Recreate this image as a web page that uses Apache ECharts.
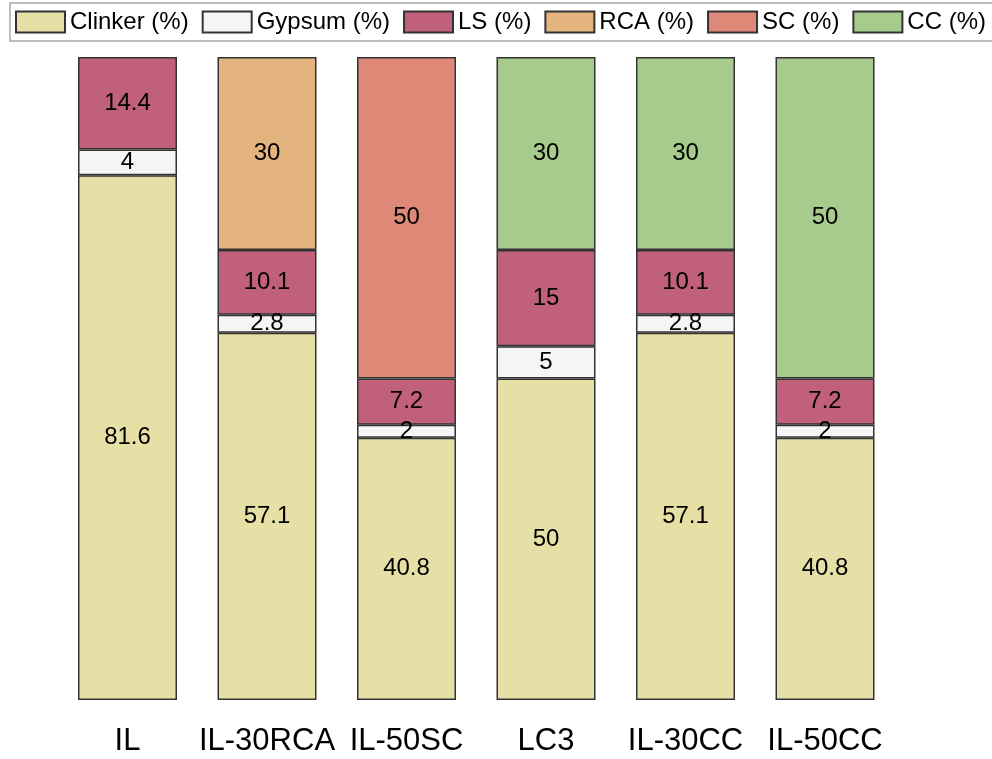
<!DOCTYPE html>
<html>
<head>
<meta charset="utf-8">
<script src="https://cdn.jsdelivr.net/npm/echarts@6/dist/echarts.min.js"></script>
<style>
html,body{margin:0;padding:0;background:#fff;}
#chart{width:992px;height:759px;}
</style>
</head>
<body>
<div id="chart"></div>
<script>
const categories = ['IL', 'IL-30RCA', 'IL-50SC', 'LC3', 'IL-30CC', 'IL-50CC'];
const clinker = [81.6, 57.1, 40.8, 50, 57.1, 40.8];
const gypsum  = [4, 2.8, 2, 5, 2.8, 2];
const ls      = [14.4, 10.1, 7.2, 15, 10.1, 7.2];
const rca     = [null, 30, null, null, null, null];
const sc      = [null, null, 50, null, null, null];
const cc      = [null, null, null, 30, 30, 50];

const seriesNames = ['Clinker (%)', 'Gypsum (%)', 'LS (%)', 'RCA (%)', 'SC (%)', 'CC (%)'];
const seriesData = [clinker, gypsum, ls, rca, sc, cc];
const colors = ['#e6e0a6', '#f5f5f5', '#c1607a', '#e4b47f', '#de8878', '#a6cb8c'];

const FONT = '"Liberation Sans", Arial, Helvetica, sans-serif';

const chart = echarts.init(document.getElementById('chart'), null, {renderer: 'canvas'});
chart.setOption({
  animation: false,
  backgroundColor: '#ffffff',
  legend: {
    left: 10,
    top: 3,
    width: 1200,
    orient: 'horizontal',
    padding: [7, 12, 7, 5],
    itemGap: 13,
    itemWidth: 49,
    itemHeight: 21,
    icon: 'rect',
    borderColor: '#aaaaaa',
    borderWidth: 1.5,
    textStyle: {fontFamily: FONT, fontSize: 24, color: '#000'},
    data: seriesNames
  },
  grid: {left: 57.75, right: 97.25, top: 57, bottom: 59, containLabel: false},
  xAxis: {
    type: 'category',
    data: categories,
    axisLine: {show: false},
    axisTick: {show: false},
    axisLabel: {fontFamily: FONT, fontSize: 31, color: '#000', margin: 26, interval: 0}
  },
  yAxis: {
    type: 'value',
    min: 0,
    max: 100,
    show: false,
    splitLine: {show: false}
  },
  series: seriesNames.map((name, i) => ({
    name: name,
    type: 'bar',
    stack: 'total',
    barWidth: 99,
    data: seriesData[i],
    itemStyle: {color: colors[i], borderColor: '#333333', borderWidth: 1.5},
    label: {
      show: true,
      position: 'inside',
      fontFamily: FONT,
      fontSize: 24,
      color: '#000',
      formatter: p => (p.value == null ? '' : String(p.value))
    },
    emphasis: {disabled: true}
  }))
});
</script>
</body>
</html>
